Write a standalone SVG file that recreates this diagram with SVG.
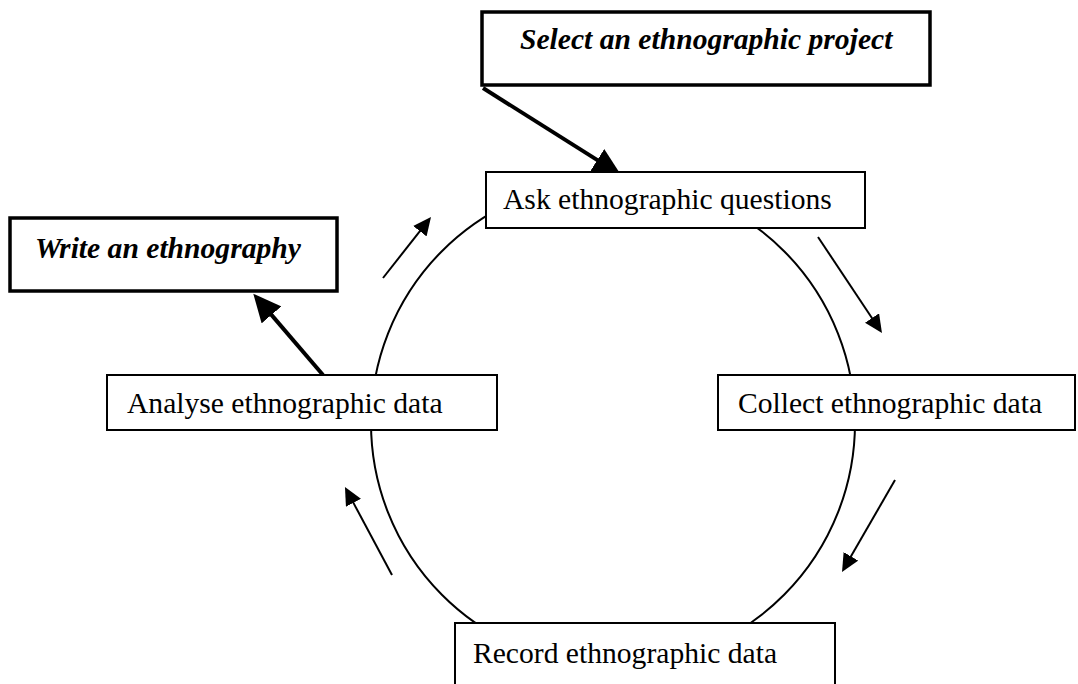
<svg xmlns="http://www.w3.org/2000/svg" width="1078" height="684" viewBox="0 0 1078 684">
<style>
.box{fill:#fff;stroke:#000;stroke-width:2}
.bold{fill:#fff;stroke:#000;stroke-width:3.5}
.lbl{font-family:"Liberation Serif","Times New Roman",serif;font-size:29.6px;fill:#000}
.lbi{font-family:"Liberation Serif","Times New Roman",serif;font-size:29.6px;font-weight:bold;font-style:italic;fill:#000}
.thin{stroke:#000;stroke-width:2;fill:none}
.thick{stroke:#000;stroke-width:4;fill:none}
</style>
<defs>
<marker id="ah" markerUnits="userSpaceOnUse" markerWidth="18" markerHeight="17" refX="2" refY="8.5" orient="auto">
<path d="M0,0 L18,8.5 L0,17 z" fill="#000"/>
</marker>
<marker id="ahb" markerUnits="userSpaceOnUse" markerWidth="28" markerHeight="26" refX="2" refY="13" orient="auto">
<path d="M0,0 L28,13 L0,26 z" fill="#000"/>
</marker>
</defs>
<rect width="1078" height="684" fill="#fff"/>
<g id="cycle">
<ellipse cx="613" cy="423" rx="242" ry="243" class="thin"/>
</g>
<g id="connectors">
<line x1="483" y1="88" x2="599" y2="161.1" class="thick" marker-end="url(#ahb)"/>
<line x1="323" y1="375" x2="270.2" y2="313.4" class="thick" marker-end="url(#ahb)"/>
<line x1="383" y1="278" x2="421.1" y2="229.6" class="thin" marker-end="url(#ah)"/>
<line x1="818" y1="237" x2="873.1" y2="319.7" class="thin" marker-end="url(#ah)"/>
<line x1="895" y1="480" x2="850" y2="558.1" class="thin" marker-end="url(#ah)"/>
<line x1="392" y1="575" x2="352.5" y2="501.1" class="thin" marker-end="url(#ah)"/>
</g>
<g id="select">
<rect x="482" y="12" width="448" height="73" class="bold"/>
<text x="520" y="49" class="lbi">Select an ethnographic project</text>
</g>
<g id="ask">
<rect x="486" y="172" width="379" height="56" class="box"/>
<text x="503" y="209" class="lbl">Ask ethnographic questions</text>
</g>
<g id="write">
<rect x="10" y="218" width="327" height="73" class="bold"/>
<text x="35" y="258" class="lbi">Write an ethnography</text>
</g>
<g id="analyse">
<rect x="107" y="375" width="390" height="55" class="box"/>
<text x="127" y="413" class="lbl">Analyse ethnographic data</text>
</g>
<g id="collect">
<rect x="718" y="375" width="357" height="55" class="box"/>
<text x="738" y="413" class="lbl">Collect ethnographic data</text>
</g>
<g id="record">
<rect x="455" y="623" width="380" height="70" class="box"/>
<text x="473" y="663" class="lbl">Record ethnographic data</text>
</g>
</svg>
